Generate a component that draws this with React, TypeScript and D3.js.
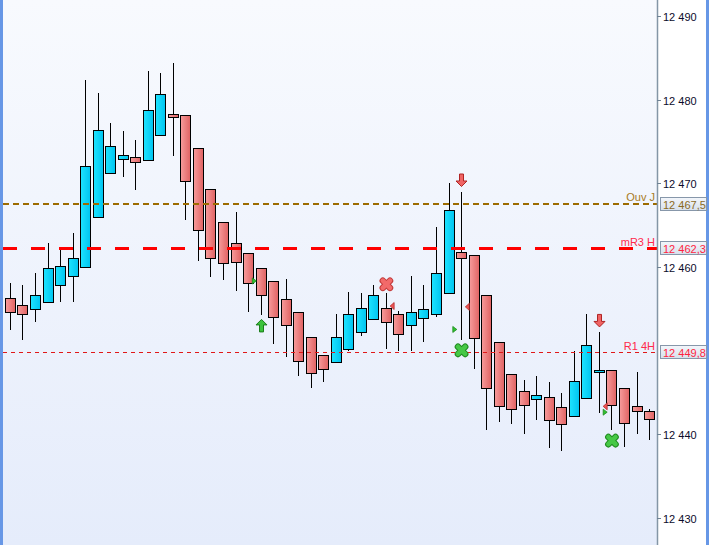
import React, { useEffect, useRef } from 'react';
import * as d3 from 'd3';

// --- Data ---
const opens = [
  12456.3, 12455.4, 12454.9, 12455.8, 12457.8, 12458.9, 12460.0, 12465.9, 12471.2, 12472.9,
  12473.1, 12472.8, 12475.8, 12478.3, 12478.1, 12474.2, 12469.3, 12465.3, 12462.9, 12461.6,
  12459.9, 12458.3, 12456.2, 12454.6, 12451.6, 12449.5, 12448.6, 12450.1, 12452.2, 12453.7,
  12455.1, 12454.3, 12453.0, 12453.9, 12454.4, 12456.8, 12461.8, 12461.4, 12456.6, 12451.0,
  12447.2, 12445.1, 12444.2, 12444.4, 12443.2, 12442.2, 12444.3, 12447.5, 12447.6, 12445.5,
  12443.3, 12442.8,
];
const highs = [
  12458.0, 12457.8, 12459.3, 12462.8, 12462.1, 12464.0, 12482.4, 12480.8, 12477.2, 12476.3,
  12475.2, 12483.4, 12483.2, 12484.4, 12478.1, 12474.2, 12469.3, 12465.3, 12466.5, 12461.6,
  12459.9, 12458.3, 12458.5, 12454.6, 12451.6, 12449.5, 12454.4, 12457.0, 12456.8, 12457.8,
  12456.8, 12454.7, 12458.9, 12457.8, 12464.8, 12470.0, 12469.0, 12461.4, 12456.6, 12451.0,
  12447.2, 12446.5, 12446.9, 12446.2, 12444.9, 12449.9, 12454.3, 12452.2, 12447.6, 12445.5,
  12447.4, 12443.0,
];
const lows = [
  12452.4, 12451.2, 12453.4, 12455.8, 12455.8, 12455.8, 12460.0, 12465.9, 12471.2, 12470.7,
  12469.2, 12472.8, 12475.8, 12473.3, 12465.6, 12460.7, 12458.8, 12458.4, 12457.1, 12454.6,
  12454.2, 12450.7, 12449.2, 12446.9, 12445.5, 12446.2, 12448.6, 12449.9, 12451.7, 12453.7,
  12450.2, 12449.9, 12449.9, 12451.0, 12454.0, 12456.8, 12451.2, 12447.8, 12440.5, 12441.4,
  12441.2, 12440.0, 12441.7, 12438.3, 12437.9, 12442.2, 12444.3, 12442.5, 12440.5, 12438.4,
  12440.0, 12439.3,
];
const closes = [
  12454.6, 12454.4, 12456.6, 12459.9, 12460.1, 12461.0, 12472.0, 12476.4, 12474.5, 12473.4,
  12472.5, 12478.7, 12480.7, 12477.9, 12470.2, 12464.4, 12461.1, 12460.4, 12460.6, 12458.1,
  12456.6, 12454.0, 12453.0, 12448.7, 12447.3, 12447.8, 12451.6, 12454.3, 12455.1, 12456.6,
  12453.4, 12452.0, 12454.6, 12454.9, 12459.2, 12466.8, 12461.0, 12451.5, 12445.5, 12443.3,
  12443.0, 12443.4, 12444.6, 12441.7, 12441.2, 12446.3, 12450.6, 12447.7, 12443.4, 12441.3,
  12442.7, 12441.8,
];

const priceTicks = [12430, 12440, 12450, 12460, 12470, 12480, 12490];

const levelNames = ['Ouv J', 'mR3 H', 'R1 4H'];
const levelValues = [12467.5, 12462.3, 12449.8];

// signal markers: candle index (halves sit between two bars) and price
const upArrows = [{ at: 20, price: 12453.7 }];
const downArrows = [{ at: 36, price: 12469.6 }, { at: 47, price: 12452.8 }];
const redCrosses = [{ at: 30, price: 12457.9 }];
const greenCrosses = [{ at: 36, price: 12450.0 }, { at: 48, price: 12439.2 }];
const greenFlags = [{ at: 19.5, price: 12458.3 }, { at: 35.5, price: 12452.5 }, { at: 47.5, price: 12442.6 }];
const redFlags = [{ at: 30.5, price: 12455.3 }, { at: 36.5, price: 12455.2 }, { at: 47.5, price: 12443.3 }];

const W = 709;
const H = 545;
const AXIS_X = 657;
const FONT = '"Liberation Sans", Arial, sans-serif';

const levelStyle = [
  { line: '#9c6b00', width: 2, dash: '6,4', label: '#a87a1c', value: '#8a6a1e' },
  { line: '#ff0000', width: 3, dash: '14,14', label: '#ff2a4a', value: '#ff1f3f' },
  { line: '#e01818', width: 1, dash: '4,4', label: '#ff2a4a', value: '#ff1f3f' },
];

const App = () => {
  const ref = useRef(null);

  useEffect(() => {
    const svg = d3.select(ref.current);
    svg.selectAll('*').remove();

    const x = d3.scaleLinear().domain([-0.5, opens.length - 0.5]).range([3.7, 655.3]);
    const y = d3.scaleLinear().domain([12430, 12490]).range([517.5, 16]);

    const loc = d3.formatLocale({ decimal: ',', thousands: ' ', grouping: [3], currency: ['', ''] });
    const fmtTick = loc.format(',d');
    const fmtLevel = loc.format(',.1f');

    const defs = svg.append('defs');
    const bg = defs.append('linearGradient').attr('id', 'bg').attr('x1', 0).attr('y1', 0).attr('x2', 0).attr('y2', 1);
    bg.append('stop').attr('offset', 0).attr('stop-color', '#f8fafe');
    bg.append('stop').attr('offset', 1).attr('stop-color', '#e5ecfb');
    const up = defs.append('linearGradient').attr('id', 'up').attr('x1', 0).attr('x2', 1);
    up.append('stop').attr('offset', 0).attr('stop-color', '#1ee4ff');
    up.append('stop').attr('offset', 1).attr('stop-color', '#00c4f0');
    const dn = defs.append('linearGradient').attr('id', 'dn').attr('x1', 0).attr('x2', 1);
    dn.append('stop').attr('offset', 0).attr('stop-color', '#f79c9c');
    dn.append('stop').attr('offset', 1).attr('stop-color', '#e06262');
    const box = defs.append('linearGradient').attr('id', 'box').attr('x1', 0).attr('y1', 0).attr('x2', 0).attr('y2', 1);
    box.append('stop').attr('offset', 0).attr('stop-color', '#f3f6fb');
    box.append('stop').attr('offset', 1).attr('stop-color', '#d7e0ec');
    defs.append('clipPath').attr('id', 'plot').append('rect')
      .attr('x', 0).attr('y', 0).attr('width', AXIS_X).attr('height', H);

    // backgrounds
    svg.append('rect').attr('width', AXIS_X).attr('height', H).attr('fill', 'url(#bg)');
    svg.append('rect').attr('x', AXIS_X).attr('width', W - AXIS_X).attr('height', H).attr('fill', '#ffffff');
    svg.append('rect').attr('x', 0).attr('width', 3).attr('height', H).attr('fill', '#6797e6');
    svg.append('rect').attr('x', 706).attr('width', 3).attr('height', H).attr('fill', '#6797e6');

    const plot = svg.append('g').attr('clip-path', 'url(#plot)');

    // candles
    const idx = d3.range(opens.length);
    const cx = i => Math.round(x(i));
    plot.selectAll('.wick').data(idx).enter().append('line')
      .attr('x1', i => cx(i) + 0.5).attr('x2', i => cx(i) + 0.5)
      .attr('y1', i => Math.round(y(highs[i]))).attr('y2', i => Math.round(y(lows[i])))
      .attr('stroke', '#000').attr('stroke-width', 1);
    plot.selectAll('.body').data(idx).enter().append('rect')
      .attr('x', i => cx(i) - 5 + 0.5)
      .attr('y', i => Math.round(y(Math.max(opens[i], closes[i]))) + 0.5)
      .attr('width', 10)
      .attr('height', i => Math.max(2, Math.round(y(Math.min(opens[i], closes[i]))) - Math.round(y(Math.max(opens[i], closes[i])))))
      .attr('fill', i => (closes[i] >= opens[i] ? 'url(#up)' : 'url(#dn)'))
      .attr('stroke', '#000').attr('stroke-width', 1);

    // horizontal levels
    levelValues.forEach((v, k) => {
      const st = levelStyle[k];
      const ly = Math.round(y(v)) + (st.width % 2 ? 0.5 : 0);
      plot.append('line').attr('x1', 3).attr('x2', AXIS_X).attr('y1', ly).attr('y2', ly)
        .attr('stroke', st.line).attr('stroke-width', st.width).attr('stroke-dasharray', st.dash);
      svg.append('text').attr('x', 655).attr('y', ly - 3).attr('text-anchor', 'end')
        .attr('font-family', FONT).attr('font-size', 11).attr('fill', st.label).text(levelNames[k]);
    });

    // markers
    const mk = svg.append('g');
    const arrowUp = 'M0,0 L5.5,5.5 L2,5.5 L2,12.5 L-2,12.5 L-2,5.5 L-5.5,5.5 Z';
    const arrowDown = 'M0,0 L5.5,-5.5 L2,-5.5 L2,-12.5 L-2,-12.5 L-2,-5.5 L-5.5,-5.5 Z';
    upArrows.forEach(d => mk.append('path').attr('d', arrowUp)
      .attr('transform', `translate(${cx(d.at) + 0.5},${y(d.price)})`)
      .attr('fill', '#3cc23c').attr('stroke', '#1c7e1c').attr('stroke-width', 1));
    downArrows.forEach(d => mk.append('path').attr('d', arrowDown)
      .attr('transform', `translate(${cx(d.at) + 0.5},${y(d.price)})`)
      .attr('fill', '#f06464').attr('stroke', '#b02424').attr('stroke-width', 1));
    const arms = [[-3.6, -3.6, 3.6, 3.6], [-3.6, 3.6, 3.6, -3.6]];
    const cross = (d, fill, edge) => {
      const g = mk.append('g').attr('transform', `translate(${x(d.at) + 0.5},${y(d.price)})`);
      arms.forEach(s => g.append('line')
        .attr('x1', s[0]).attr('y1', s[1]).attr('x2', s[2]).attr('y2', s[3])
        .attr('stroke', edge).attr('stroke-width', 6.5).attr('stroke-linecap', 'round'));
      arms.forEach(s => g.append('line')
        .attr('x1', s[0]).attr('y1', s[1]).attr('x2', s[2]).attr('y2', s[3])
        .attr('stroke', fill).attr('stroke-width', 4.5).attr('stroke-linecap', 'round'));
    };
    redCrosses.forEach(d => cross(d, '#f26a6a', '#c23a3a'));
    greenCrosses.forEach(d => cross(d, '#46c846', '#1f8a1f'));
    greenFlags.forEach(d => mk.append('path').attr('d', 'M-2,-3 L2,0 L-2,3 Z')
      .attr('transform', `translate(${x(d.at)},${y(d.price)})`)
      .attr('fill', '#2fc22f').attr('stroke', '#1f8a1f').attr('stroke-width', 0.8));
    redFlags.forEach(d => mk.append('path').attr('d', 'M2,-3.5 L-2,0 L2,3.5 Z')
      .attr('transform', `translate(${x(d.at)},${y(d.price)})`)
      .attr('fill', '#ee5555').attr('stroke', '#b52a2a').attr('stroke-width', 0.8));

    // right price axis
    svg.append('line').attr('x1', AXIS_X + 0.5).attr('x2', AXIS_X + 0.5).attr('y1', 0).attr('y2', H)
      .attr('stroke', '#8496a6').attr('stroke-width', 1.5);
    const levelYs = levelValues.map(v => y(v));
    const shown = priceTicks.filter(t => levelYs.every(ly => Math.abs(y(t) - ly) > 12));
    const ax = svg.append('g');
    shown.forEach(t => {
      const ty = Math.round(y(t)) + 0.5;
      ax.append('line').attr('x1', AXIS_X).attr('x2', AXIS_X + 4).attr('y1', ty).attr('y2', ty)
        .attr('stroke', '#6f8294');
      ax.append('text').attr('x', 663).attr('y', ty + 4).attr('font-family', FONT).attr('font-size', 11)
        .attr('fill', '#0b0b2b').text(fmtTick(t));
    });

    // level value boxes
    levelValues.forEach((v, k) => {
      const ly = y(v);
      svg.append('rect').attr('x', 660.5).attr('y', Math.round(ly - 7) + 0.5).attr('width', 46).attr('height', 13)
        .attr('fill', 'url(#box)').attr('stroke', '#8797aa');
      svg.append('text').attr('x', 663).attr('y', Math.round(ly) + 4.5).attr('font-family', FONT).attr('font-size', 11)
        .attr('fill', levelStyle[k].value).text(fmtLevel(v));
    });
  }, []);

  return (
    <div style={{ position: 'absolute', left: 0, top: 0 }}>
      <svg ref={ref} width={W} height={H} style={{ display: 'block' }}></svg>
    </div>
  );
};

export default App;
